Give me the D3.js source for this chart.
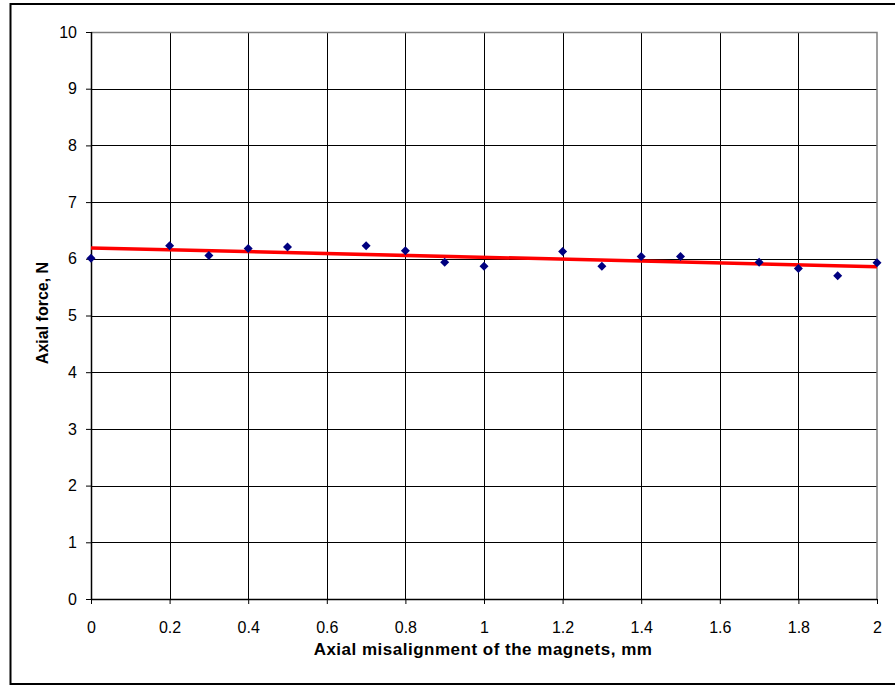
<!DOCTYPE html>
<html>
<head>
<meta charset="utf-8">
<script src="https://cdn.jsdelivr.net/npm/d3@7"></script>
<style>
  body { margin: 0; background: #fff; }
  svg { display: block; font-family: "Liberation Sans", Arial, sans-serif; }
</style>
</head>
<body>
<div id="plot"></div>
<script>
// misalignment (mm) and measured axial force (N)
let misalign = [0, 0.2, 0.3, 0.4, 0.5, 0.7, 0.8, 0.9, 1.0, 1.2, 1.3, 1.4, 1.5, 1.7, 1.8, 1.9, 2.0];
let force = [6.01, 6.23, 6.06, 6.18, 6.21, 6.23, 6.14, 5.94, 5.87, 6.13, 5.87, 6.04, 6.04, 5.94, 5.83, 5.70, 5.93];
let xTicks = [0, 0.2, 0.4, 0.6, 0.8, 1, 1.2, 1.4, 1.6, 1.8, 2];
let yTicks = [0, 1, 2, 3, 4, 5, 6, 7, 8, 9, 10];

let svgWidth = 895;
let svgHeight = 685;
let margin = { top: 32, right: 18, bottom: 86, left: 91 };
let width = svgWidth - margin.left - margin.right;
let height = svgHeight - margin.top - margin.bottom;

let data = misalign.map((d, i) => ({ x: d, y: force[i] }));

// least squares trend line
let mx = d3.mean(misalign), my = d3.mean(force);
let slope = d3.sum(data, d => (d.x - mx) * (d.y - my)) / d3.sum(data, d => (d.x - mx) * (d.x - mx));
let icpt = my - slope * mx;

let x = d3.scaleLinear().domain([0, 2]).range([0, width]);
let y = d3.scaleLinear().domain([0, 10]).range([height, 0]);

let svg = d3.select('#plot')
    .append('svg')
    .attr('width', svgWidth)
    .attr('height', svgHeight);

// outer chart frame
svg.append('rect')
    .attr('x', 10.5).attr('y', 4)
    .attr('width', 900).attr('height', 680)
    .attr('fill', 'none')
    .attr('stroke', '#000')
    .attr('stroke-width', 2);

let chart = svg.append('g')
    .attr('transform', `translate(${margin.left},${margin.top})`);

// gridlines
chart.append('g')
    .selectAll('line.h')
    .data(yTicks.slice(1, -1))
    .enter().append('line')
    .attr('x1', 0).attr('x2', width)
    .attr('y1', d => Math.round(y(d)) + 0.5).attr('y2', d => Math.round(y(d)) + 0.5)
    .attr('stroke', '#000').attr('stroke-width', 1);

chart.append('g')
    .selectAll('line.v')
    .data(xTicks.slice(1, -1))
    .enter().append('line')
    .attr('y1', 0).attr('y2', height)
    .attr('x1', d => Math.round(x(d)) + 0.5).attr('x2', d => Math.round(x(d)) + 0.5)
    .attr('stroke', '#000').attr('stroke-width', 1);

// grey plot border top / right
chart.append('path')
    .attr('d', `M0,0.5H${width}V${height}`)
    .attr('fill', 'none')
    .attr('stroke', '#808080')
    .attr('stroke-width', 1.5);

let xAxis = d3.axisBottom(x).tickValues(xTicks).tickSize(5).tickPadding(18).tickFormat(d => d3.format('')(d));
let yAxis = d3.axisLeft(y).tickValues(yTicks).tickSize(5).tickPadding(9).tickFormat(d3.format('d'));

let gx = chart.append('g')
    .attr('transform', `translate(0,${height})`)
    .call(xAxis);
let gy = chart.append('g')
    .call(yAxis);

[gx, gy].forEach(g => {
    g.select('.domain').attr('stroke', '#000').attr('stroke-width', 1.5);
    g.selectAll('.tick line').attr('stroke', '#000');
    g.selectAll('text')
        .attr('fill', '#000')
        .style('font-family', '"Liberation Sans", Arial, sans-serif')
        .style('font-size', '16px');
});
gx.select('.domain').attr('d', `M0,0.5H${width}`);
gy.select('.domain').attr('d', `M0.5,0V${height}`);

// trend line
chart.append('line')
    .attr('x1', x(0)).attr('y1', y(icpt))
    .attr('x2', x(2)).attr('y2', y(icpt + slope * 2))
    .attr('stroke', '#ff0000')
    .attr('stroke-width', 3.5);

// markers
chart.selectAll('path.pt')
    .data(data)
    .enter().append('path')
    .attr('class', 'pt')
    .attr('transform', d => `translate(${x(d.x)},${y(d.y)})`)
    .attr('d', 'M0,-4.5L4.5,0L0,4.5L-4.5,0Z')
    .attr('fill', '#000080');

// axis titles
svg.append('text')
    .attr('x', 483)
    .attr('y', 655)
    .attr('text-anchor', 'middle')
    .style('font-size', '17px')
    .style('letter-spacing', '0.5px')
    .style('font-weight', 'bold')
    .text('Axial misalignment of the magnets, mm');

svg.append('text')
    .attr('transform', 'translate(48,313) rotate(-90)')
    .attr('text-anchor', 'middle')
    .style('font-size', '16px')
    .style('font-weight', 'bold')
    .text('Axial force, N');
</script>
</body>
</html>
